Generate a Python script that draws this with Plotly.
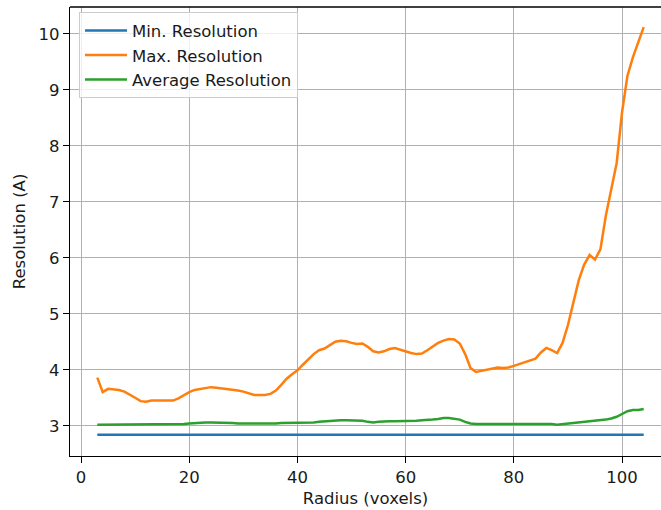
import plotly.graph_objects as go

# radius in voxels
radius = list(range(3, 105))

min_res = [2.84] * 63 + [2.85, 2.85, 2.85, 2.85, 2.85, 2.85] + [2.84] * 33

max_res = [
    3.86, 3.60, 3.66, 3.65, 3.64, 3.61, 3.56, 3.50, 3.44, 3.43,
    3.45, 3.45, 3.45, 3.45, 3.45, 3.49, 3.55, 3.60, 3.64, 3.66,
    3.68, 3.69, 3.68, 3.67, 3.66, 3.65, 3.63, 3.61, 3.58, 3.55,
    3.55, 3.55, 3.57, 3.63, 3.73, 3.84, 3.92, 3.99, 4.09, 4.18,
    4.28, 4.35, 4.38, 4.44, 4.50, 4.52, 4.51, 4.48, 4.46, 4.47,
    4.41, 4.33, 4.31, 4.33, 4.37, 4.39, 4.36, 4.32, 4.30, 4.28,
    4.29, 4.35, 4.42, 4.48, 4.52, 4.55, 4.54, 4.47, 4.28, 4.03,
    3.96, 3.98, 4.00, 4.02, 4.04, 4.03, 4.04, 4.07, 4.10, 4.13,
    4.16, 4.20, 4.31, 4.39, 4.35, 4.30, 4.48, 4.80, 5.20, 5.60,
    5.88, 6.05, 5.97, 6.15, 6.75, 7.25, 7.69, 8.60, 9.25, 9.58,
    9.85, 10.12,
]

avg_res = [
    3.02, 3.02, 3.02, 3.02, 3.03, 3.03, 3.03, 3.03, 3.02, 3.02,
    3.02, 3.02, 3.02, 3.02, 3.02, 3.02, 3.03, 3.04, 3.05, 3.05,
    3.06, 3.06, 3.06, 3.06, 3.05, 3.05, 3.04, 3.04, 3.03, 3.03,
    3.03, 3.03, 3.04, 3.04, 3.05, 3.05, 3.05, 3.05, 3.06, 3.06,
    3.06, 3.07, 3.08, 3.09, 3.10, 3.10, 3.10, 3.10, 3.10, 3.09,
    3.07, 3.06, 3.07, 3.08, 3.08, 3.08, 3.08, 3.08, 3.08, 3.09,
    3.10, 3.10, 3.11, 3.12, 3.14, 3.14, 3.13, 3.11, 3.07, 3.04,
    3.03, 3.03, 3.03, 3.03, 3.03, 3.03, 3.03, 3.03, 3.03, 3.03,
    3.04, 3.04, 3.04, 3.04, 3.03, 3.02, 3.03, 3.04, 3.05, 3.05,
    3.06, 3.07, 3.08, 3.10, 3.11, 3.13, 3.16, 3.21, 3.26, 3.28,
    3.28, 3.30,
]

series = [
    ("Min. Resolution", min_res, "#1f77b4"),
    ("Max. Resolution", max_res, "#ff7f0e"),
    ("Average Resolution", avg_res, "#2ca02c"),
]

FS = 16.5

fig = go.Figure()
for name, vals, color in series:
    fig.add_trace(go.Scatter(
        x=radius, y=vals, mode="lines", name=name,
        line=dict(color=color, width=2.5),
    ))

axis_common = dict(
    showgrid=True, gridcolor="#b0b0b0", gridwidth=1.3,
    showline=True, linecolor="black", linewidth=1.3,
    ticks="outside", ticklen=6, tickwidth=1.3, tickcolor="black",
    zeroline=False, mirror=False, automargin=False,
    tickfont=dict(size=FS, color="#1a1a1a"),
)

fig.update_layout(
    width=661, height=510,
    margin=dict(l=70, r=0, t=7, b=54),
    plot_bgcolor="white", paper_bgcolor="white",
    font=dict(family="DejaVu Sans", size=FS, color="#1a1a1a"),
    xaxis=dict(axis_common, range=[-2.05, 107.2], tickvals=[0, 20, 40, 60, 80, 100],
               title=dict(text="Radius (voxels)", standoff=6, font=dict(size=FS))),
    yaxis=dict(axis_common, range=[2.46, 10.48], tickvals=[3, 4, 5, 6, 7, 8, 9, 10],
               title=dict(text="Resolution (A)", standoff=8, font=dict(size=FS))),
    legend=dict(x=0.0152, y=0.988, xanchor="left", yanchor="top", itemwidth=42,
                bgcolor="rgba(255,255,255,0.8)", bordercolor="#cccccc", borderwidth=1,
                font=dict(size=FS, color="#1a1a1a")),
    shapes=[dict(type="line", xref="paper", yref="paper", x0=0, x1=1, y0=1, y1=1,
                 line=dict(color="black", width=1.3))],
    showlegend=True,
)

# page body has a default 8px margin; drop it so the figure sits at the corner
fig.write_html("out.html", config={"displayModeBar": False},
               post_script="document.body.style.margin='0px';")
